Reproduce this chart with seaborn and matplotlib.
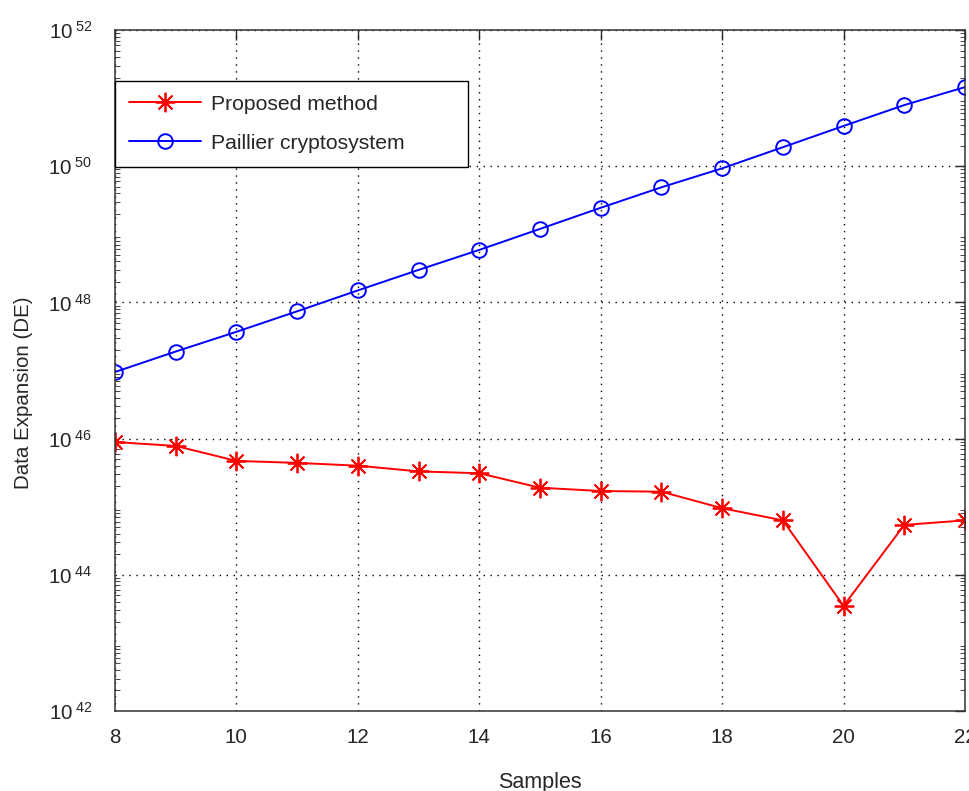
import math
import matplotlib
matplotlib.use("Agg")
import matplotlib.pyplot as plt
import matplotlib.ticker as mticker
import seaborn as sns
import pandas as pd

# data
samples = [8, 9, 10, 11, 12, 13, 14, 15, 16, 17, 18, 19, 20, 21, 22]
proposed_de = [8.9e45, 7.8e45, 4.7e45, 4.4e45, 4.0e45, 3.3e45, 3.1e45,
               1.9e45, 1.7e45, 1.66e45, 9.5e44, 6.3e44, 3.5e43, 5.4e44, 6.3e44]
paillier_de = [9.5e46, 1.9e47, 3.7e47, 7.4e47, 1.5e48, 3.0e48, 5.9e48,
               1.2e49, 2.45e49, 4.9e49, 9.3e49, 1.9e50, 3.9e50, 7.9e50, 1.45e51]
methods = ["Proposed method", "Paillier cryptosystem"]
y_exponents = [42, 44, 46, 48, 50, 52]

df = pd.DataFrame({
    "Samples": samples,
    methods[0]: proposed_de,
    methods[1]: paillier_de,
}).melt(id_vars="Samples", var_name="Method", value_name="DE")

sns.set_style("white")
plt.rcParams['font.family'] = ['Liberation Sans', 'DejaVu Sans']
plt.rcParams['mathtext.fontset'] = 'custom'
plt.rcParams['mathtext.rm'] = 'Liberation Sans'
plt.rcParams['mathtext.it'] = 'Liberation Sans'
text_color = '#262626'


def pow10_label(v, pos):
    return r'$\mathregular{10^{\ %d}}$' % round(math.log10(v))


def matlab_markers(lines):
    # asterisk with 8 spokes for the proposed method, hollow circle for Paillier
    for line in lines:
        line.set_markeredgecolor(line.get_color())
        if line.get_marker() == '*':
            line.set_marker((8, 2, 0))
            line.set_markersize(14)
            line.set_markeredgewidth(1.3)
        elif line.get_marker() == 'o':
            line.set_markerfacecolor('none')
            line.set_markersize(10.5)
            line.set_markeredgewidth(1.4)


fig = plt.figure(figsize=(9.69, 7.91), dpi=100)
ax = fig.add_axes([115 / 969, 1 - 711 / 791, 850 / 969, 681 / 791])

sns.lineplot(data=df, x="Samples", y="DE", hue="Method", style="Method",
             hue_order=methods, style_order=methods,
             palette=['#ff0000', '#0000ff'], markers=['*', 'o'], dashes=False,
             linewidth=1.4, ax=ax)
matlab_markers(ax.lines)

ax.set_yscale('log')
ax.set_xlim(8, 22)
ax.set_ylim(10.0 ** y_exponents[0], 10.0 ** y_exponents[-1])
ax.set_xticks(range(8, 23, 2))
ax.set_yticks([10.0 ** e for e in y_exponents])
ax.yaxis.set_major_formatter(mticker.FuncFormatter(pow10_label))
ax.yaxis.set_minor_locator(mticker.LogLocator(base=10, subs=range(2, 10), numticks=100))
ax.yaxis.set_minor_formatter(mticker.NullFormatter())

ax.tick_params(axis='both', which='major', direction='in', length=7, width=1,
               top=True, right=True, labelsize=14.8, labelcolor=text_color)
ax.tick_params(axis='x', which='major', pad=12)
ax.tick_params(axis='y', which='major', pad=16)
ax.tick_params(axis='y', which='minor', direction='in', length=3.5, width=0.6,
               left=True, right=True)
ax.grid(True, which='major', color='black', linestyle=(0, (1, 4)), linewidth=1)
for s in ax.spines.values():
    s.set_color('#333333')
    s.set_linewidth(1.1)

ax.set_xlabel("Samples", fontsize=15.5, color=text_color, labelpad=18)
ax.set_ylabel("Data Expansion (DE)", fontsize=14.8, color=text_color)
ax.yaxis.set_label_coords(-0.096, 0.467)

handles, labels = ax.get_legend_handles_labels()
matlab_markers(handles)
leg_h = 84 / 681
leg = ax.legend(handles, labels, loc='upper left',
                bbox_to_anchor=(0, 1 - 51 / 681 - leg_h, 353 / 850, leg_h),
                mode='expand', fontsize=15.2, title=None,
                frameon=True, fancybox=False, edgecolor='black', framealpha=1,
                borderpad=0.65, handlelength=3.4, handletextpad=0.5,
                labelspacing=0.95, borderaxespad=0)
leg.get_frame().set_linewidth(1)

fig.savefig("out.png", dpi=100)
